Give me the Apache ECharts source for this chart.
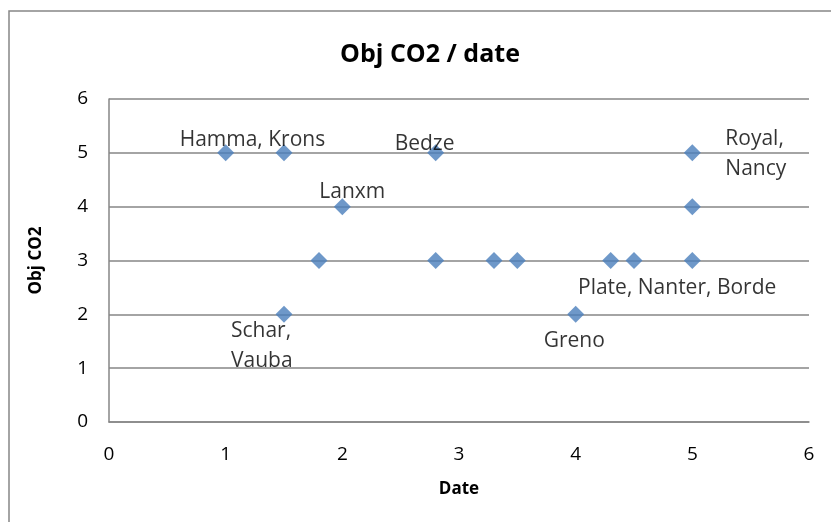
<!DOCTYPE html>
<html>
<head>
<meta charset="utf-8">
<script src="https://cdn.jsdelivr.net/npm/echarts@6/dist/echarts.min.js"></script>
<style>
    html, body {margin: 0; padding: 0; background: #fff;}
    #chart {width: 831px; height: 522px;}
</style>
</head>
<body>
<div id="chart"></div>
<script>
// valeurs
var dates = [1, 1.5, 2, 1.8, 1.5, 2.8, 2.8, 3.3, 3.5, 4.3, 4.5, 5, 5, 5, 4];
var objCO2 = [5, 5, 4, 3, 2, 5, 3, 3, 3, 3, 3, 5, 4, 3, 2];
var names = ['Hamma, Krons', '', 'Lanxm', '', 'Schar,\nVauba', 'Bedze', '', '', '', '',
    'Plate, Nanter, Borde', 'Royal,\nNancy', '', '', 'Greno'];
var xTicks = [0, 1, 2, 3, 4, 5, 6];
var yTicks = [0, 1, 2, 3, 4, 5, 6];

// decalage des etiquettes (placees a la main comme dans Excel)
var labelOffsets = [[-46, -13], null, [-23, -15], null, [-53, 32], [-41, -9], null, null, null, null,
    [-56, 28], [33, 1], null, null, [-32, 27]];

var font = 'Open Sans';
var grey = '#868686';

var chart = echarts.init(document.getElementById('chart'));

var points = [];
for (var i = 0; i < dates.length; i++) {
    var p = {value: [dates[i], objCO2[i]], name: names[i]};
    if (names[i] && labelOffsets[i]) {
        p.label = {
            show: true,
            position: 'inside',
            align: 'left',
            verticalAlign: 'middle',
            offset: labelOffsets[i],
            formatter: '{b}',
            color: '#000',
            fontFamily: font,
            fontSize: 21,
            lineHeight: 30
        };
    }
    points.push(p);
}

var option = {
    animation: false,
    title: {
        text: 'Obj CO2 / date',
        left: 425,
        top: 37,
        textAlign: 'center',
        textStyle: {fontFamily: font, fontWeight: 'bold', fontSize: 25, color: '#000'}
    },
    graphic: [{
        type: 'rect',
        shape: {x: 9, y: 11, width: 900, height: 600},
        style: {fill: 'none', stroke: grey, lineWidth: 1.5},
        silent: true,
        z: -1
    }],
    grid: {left: 109, right: 22, top: 99, bottom: 100},
    xAxis: {
        type: 'value',
        min: xTicks[0],
        max: xTicks[xTicks.length - 1],
        interval: 1,
        name: 'Date',
        nameLocation: 'middle',
        nameGap: 59,
        nameTextStyle: {fontFamily: font, fontWeight: 'bold', fontSize: 17, color: '#000'},
        axisLine: {show: true, lineStyle: {color: grey, width: 1.5}},
        axisTick: {show: false},
        splitLine: {show: false},
        axisLabel: {
            margin: 23, fontFamily: font, fontSize: 19, color: '#000',
            formatter: function (v) { return xTicks.indexOf(v) >= 0 ? String(v) : ''; }
        }
    },
    yAxis: {
        type: 'value',
        min: yTicks[0],
        max: yTicks[yTicks.length - 1],
        interval: 1,
        name: 'Obj CO2',
        nameLocation: 'middle',
        nameGap: 64,
        nameTextStyle: {fontFamily: font, fontWeight: 'bold', fontSize: 17, color: '#000'},
        axisLine: {show: true, lineStyle: {color: grey, width: 1.5}},
        axisTick: {show: false},
        splitLine: {show: true, lineStyle: {color: grey, width: 1.5}},
        axisLabel: {
            margin: 21, fontFamily: font, fontSize: 19, color: '#000',
            formatter: function (v) { return yTicks.indexOf(v) >= 0 ? String(v) : ''; }
        }
    },
    series: [{
        type: 'scatter',
        symbol: 'diamond',
        symbolSize: [17, 17],
        itemStyle: {color: '#4A7EBB'},
        data: points
    }]
};

chart.setOption(option);
</script>
</body>
</html>
